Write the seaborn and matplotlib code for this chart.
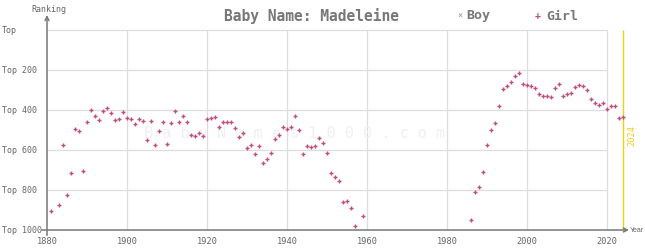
import matplotlib
matplotlib.use("Agg")
import matplotlib.pyplot as plt
import seaborn as sns
import pandas as pd

girl_years = [1881, 1883, 1884, 1885, 1886, 1887, 1888, 1889, 1890, 1891, 1892, 1893,
              1894, 1895, 1896, 1897, 1898, 1899, 1900, 1901, 1902, 1903, 1904, 1905,
              1906, 1907, 1908, 1909, 1910, 1911, 1912, 1913, 1914, 1915, 1916, 1917,
              1918, 1919, 1920, 1921, 1922, 1923, 1924, 1925, 1926, 1927, 1928, 1929,
              1930, 1931, 1932, 1933, 1934, 1935, 1936, 1937, 1938, 1939, 1940, 1941,
              1942, 1943, 1944, 1945, 1946, 1947, 1948, 1949, 1950, 1951, 1952, 1953,
              1954, 1955, 1956, 1957, 1959,
              1986, 1987, 1988, 1989, 1990, 1991, 1992, 1993, 1994, 1995, 1996, 1997,
              1998, 1999, 2000, 2001, 2002, 2003, 2004, 2005, 2006, 2007, 2008, 2009,
              2010, 2011, 2012, 2013, 2014, 2015, 2016, 2017, 2018, 2019, 2020, 2021,
              2022, 2023, 2024]
girl_ranks = [907, 877, 577, 827, 717, 497, 507, 707, 462, 402, 432, 452,
              407, 392, 417, 452, 447, 412, 442, 447, 472, 447, 457, 552,
              457, 577, 507, 462, 572, 467, 407, 462, 432, 462, 527, 532,
              517, 532, 447, 442, 437, 487, 462, 462, 462, 492, 537, 517,
              592, 577, 622, 582, 667, 647, 617, 547, 527, 487, 497, 487,
              432, 502, 622, 582, 587, 582, 542, 567, 617, 717, 737, 757,
              862, 857, 892, 982, 932,
              952, 812, 787, 712, 577, 502, 467, 382, 297, 282, 262, 232,
              217, 272, 277, 282, 292, 322, 332, 332, 337, 292, 272, 332,
              322, 317, 287, 277, 282, 302, 347, 367, 377, 367, 397, 382,
              382, 442, 437]

year_ticks = [1880, 1900, 1920, 1940, 1960, 1980, 2000, 2020]
rank_ticks = [0, 200, 400, 600, 800, 1000]
rank_labels = ["Top", "Top 200", "Top 400", "Top 600", "Top 800", "Top 1000"]

sns.set_theme(style="white")
plt.rcParams['font.family'] = ['DejaVu Sans Mono', 'DejaVu Sans']

GRAY = "#666666"
PINK = "#c04d7b"

fig = plt.figure(figsize=(6.45, 2.5), dpi=100)
ax = fig.add_axes([47/645, 1-230/250, (629-47)/645, (230-15)/250])
ax.set_xlim(1880, 1880 + (629-47)/4)
ax.set_ylim(1000, -75)

# grid
ax.hlines(rank_ticks[:-1], 1880, 2020, color="#dddddd", lw=0.9, zorder=0)
ax.vlines(year_ticks[1:], 0, 1000, color="#dddddd", lw=0.9, zorder=0)
# current year line
ax.vlines([2024], 0, 1000, color="#f2cc1a", lw=1.0, zorder=1)

df = pd.DataFrame({"year": girl_years, "rank": girl_ranks})
sns.scatterplot(data=df, x="year", y="rank", marker="+", color=PINK, s=10,
                linewidth=1.0, ax=ax, zorder=3, legend=False)

for sp in ax.spines.values():
    sp.set_visible(False)

# axes with arrows
ax.annotate("", xy=(0, 1.0), xytext=(0, -0.025), xycoords="axes fraction",
            arrowprops=dict(arrowstyle="->", color="#777777", lw=1.1,
                            mutation_scale=7, shrinkA=0, shrinkB=0), annotation_clip=False)
ax.annotate("", xy=(1.0, 0), xytext=(-0.009, 0), xycoords="axes fraction",
            arrowprops=dict(arrowstyle="->", color="#777777", lw=1.1,
                            mutation_scale=7, shrinkA=0, shrinkB=0), annotation_clip=False)

ax.set_xticks(year_ticks)
ax.set_xticklabels([str(y) for y in year_ticks], fontsize=6.2, color=GRAY)
ax.set_yticks(rank_ticks)
ax.set_yticklabels(rank_labels, fontsize=6.0, color=GRAY, ha="left")
ax.tick_params(axis="y", length=0, pad=32.5)
ax.tick_params(axis="x", length=0, pad=5)
ax.set_xlabel("")
ax.set_ylabel("")

# watermark
ax.text(1942, 520, "B a b y N a m e s 1 0 0 0 . c o m", fontsize=11,
        color="#f0f0f0", ha="center", va="center", zorder=0)

# 2024 label
ax.text(2026.2, 530, "2024", rotation=90, fontsize=6.2, color="#f2cc1a",
        ha="center", va="center")

# title & legend
fig.text(311/645, 1-16/250, "Baby Name: Madeleine", fontsize=10.5, fontweight="bold",
         color="#777777", ha="center", va="center")
fig.text(460/645, 1-16/250, "×", fontsize=6, color="#8890aa", ha="center", va="center")
fig.text(466/645, 1-16/250, "Boy", fontsize=9.5, fontweight="bold", color="#777777",
         ha="left", va="center")
fig.text(538/645, 1-16/250, "+", fontsize=7, color=PINK, ha="center", va="center",
         fontweight="bold")
fig.text(546/645, 1-16/250, "Girl", fontsize=9.5, fontweight="bold", color="#777777",
         ha="left", va="center")
fig.text(49/645, 1-9/250, "Ranking", fontsize=6, color=GRAY, ha="center", va="center")
fig.text(630/645, 1-230/250, "Year", fontsize=5.0, color=GRAY, ha="left", va="center",
         family="Liberation Sans")

fig.savefig("out.png", dpi=100)
